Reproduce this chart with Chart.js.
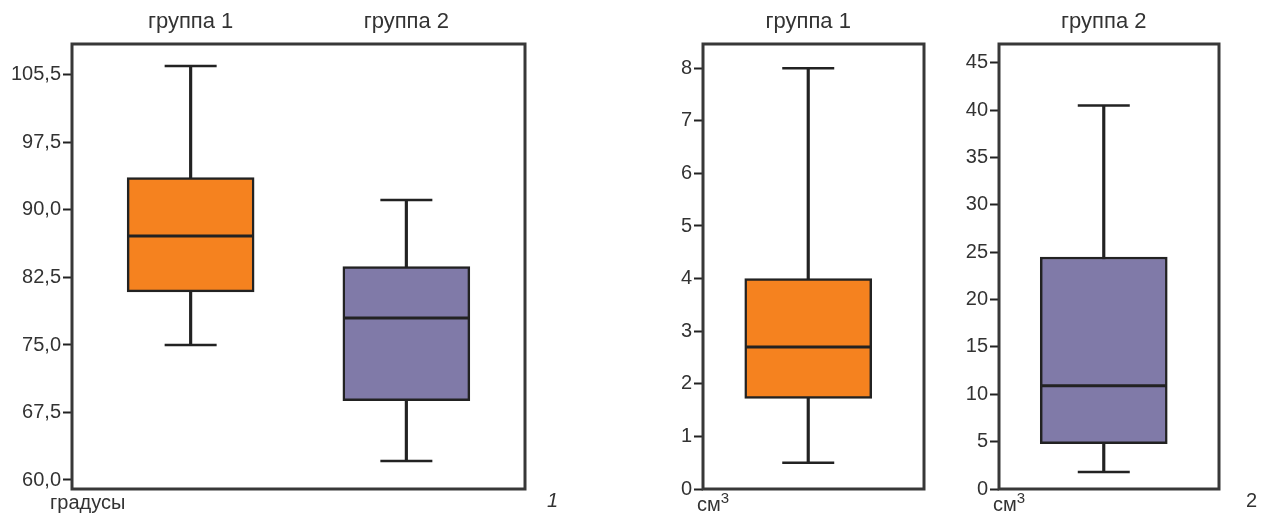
<!DOCTYPE html>
<html lang="ru">
<head>
<meta charset="utf-8">
<title>Boxplots</title>
<script src="https://cdn.jsdelivr.net/npm/chart.js@4.4.1/dist/chart.umd.min.js"></script>
<style>
  body { margin: 0; background: #fff; width: 1270px; height: 515px; position: relative; overflow: hidden;
         font-family: "Liberation Sans", Arial, sans-serif; color: #333; }
  canvas { position: absolute; top: 0; }
  .note { position: absolute; font-size: 20px; line-height: 22px; color: #333; white-space: nowrap; }
  .note sup { font-size: 15px; vertical-align: 8px; line-height: 0; }
</style>
</head>
<body>
<canvas id="chartAngle" width="560" height="515" style="left:0px"></canvas>
<canvas id="chartVol1" width="320" height="515" style="left:630px"></canvas>
<canvas id="chartVol2" width="320" height="515" style="left:950px"></canvas>

<div class="note" style="left:50px;top:491px">градусы</div>
<div class="note" style="left:547px;top:489px;font-style:italic">1</div>
<div class="note" style="left:697px;top:493px">см<sup>3</sup></div>
<div class="note" style="left:993px;top:493px">см<sup>3</sup></div>
<div class="note" style="left:1246px;top:489px">2</div>

<script>
// panel 1 - angle, degrees
const angleGroups = ["группа 1", "группа 2"];
const angleMin = [75.0, 62.1];
const angleQ1 = [80.9, 68.8];
const angleMedian = [87.1, 78.0];
const angleQ3 = [93.6, 83.7];
const angleMax = [106.0, 91.1];
const angleTicks = [60, 67.5, 75, 82.5, 90, 97.5, 105];
const angleTickLabels = ["60,0", "67,5", "75,0", "82,5", "90,0", "97,5", "105,5"];

// panel 2 - volume, cm3, group 1
const vol1Group = ["группа 1"];
const vol1Min = [0.5];
const vol1Q1 = [1.72];
const vol1Median = [2.7];
const vol1Q3 = [4.0];
const vol1Max = [8.0];
const vol1Ticks = [0, 1, 2, 3, 4, 5, 6, 7, 8];

// panel 3 - volume, cm3, group 2
const vol2Group = ["группа 2"];
const vol2Min = [1.8];
const vol2Q1 = [4.8];
const vol2Median = [10.9];
const vol2Q3 = [24.5];
const vol2Max = [40.5];
const vol2Ticks = [0, 5, 10, 15, 20, 25, 30, 35, 40, 45];

const orange = "#f5821f";
const purple = "#807aa8";
const lineColor = "#222";
const textColor = "#333";
const fontFamily = '"Liberation Sans", Arial, sans-serif';

// outline round the plot area
const framePlugin = {
  id: "frame",
  afterDraw(chart) {
    const { ctx, chartArea } = chart;
    ctx.save();
    ctx.strokeStyle = "#383838";
    ctx.lineWidth = 3;
    ctx.strokeRect(chartArea.left, chartArea.top,
      chartArea.right - chartArea.left, chartArea.bottom - chartArea.top);
    ctx.restore();
  }
};

function boxChart(canvasId, p) {
  const xs = p.labels.map((_, i) => i + 1);
  return new Chart(document.getElementById(canvasId), {
    type: "bar",
    data: {
      datasets: [
        { // whisker stems, behind the box
          label: "whisker",
          order: 4,
          grouped: false,
          barThickness: 2.5,
          backgroundColor: lineColor,
          borderWidth: 0,
          data: xs.map((x, i) => ({ x: x, y: [p.min[i], p.max[i]] })),
        },
        { // box q1..q3
          label: "box",
          order: 3,
          grouped: false,
          barThickness: 127,
          backgroundColor: p.colors,
          borderColor: lineColor,
          borderWidth: 2.5,
          borderSkipped: false,
          data: xs.map((x, i) => ({ x: x, y: [p.q1[i], p.q3[i]] })),
        },
        { // median
          type: "scatter",
          label: "median",
          order: 1,
          pointStyle: "line",
          pointRadius: 63,
          pointBorderWidth: 3,
          pointBorderColor: lineColor,
          data: xs.map((x, i) => ({ x: x, y: p.median[i] })),
        },
        { // whisker caps
          type: "scatter",
          label: "caps",
          order: 2,
          pointStyle: "line",
          pointRadius: 26,
          pointBorderWidth: 2.5,
          pointBorderColor: lineColor,
          data: xs.flatMap((x, i) => [{ x: x, y: p.min[i] }, { x: x, y: p.max[i] }]),
        },
      ],
    },
    options: {
      responsive: false,
      animation: false,
      events: [],
      layout: { autoPadding: false, padding: { left: 0, top: 0, right: p.padRight, bottom: 26 } },
      plugins: {
        legend: { display: false },
        tooltip: { enabled: false },
      },
      scales: {
        x: {
          type: "linear",
          position: "top",
          offset: false,
          min: p.xMin,
          max: p.xMax,
          afterFit: (scale) => { scale.height = 44; },
          afterBuildTicks: (scale) => { scale.ticks = xs.map((v) => ({ value: v })); },
          grid: { display: false, drawTicks: false, offset: false },
          border: { display: false },
          ticks: {
            autoSkip: false,
            maxRotation: 0,
            padding: 9,
            color: textColor,
            font: { family: fontFamily, size: 22 },
            callback: (value, index) => p.labels[index],
          },
        },
        y: {
          min: p.yMin,
          max: p.yMax,
          afterFit: (scale) => { scale.width = p.axisWidth; },
          afterBuildTicks: (scale) => { scale.ticks = p.ticks.map((v) => ({ value: v })); },
          grid: { drawOnChartArea: false, drawTicks: true, tickLength: 9, tickWidth: 2, tickColor: lineColor },
          border: { display: false },
          ticks: {
            autoSkip: false,
            padding: 2,
            color: textColor,
            font: { family: fontFamily, size: 20 },
            callback: (value, index) => p.tickLabels[index],
          },
        },
      },
    },
    plugins: [framePlugin],
  });
}

boxChart("chartAngle", {
  labels: angleGroups, colors: [orange, purple],
  min: angleMin, q1: angleQ1, median: angleMedian, q3: angleQ3, max: angleMax,
  ticks: angleTicks, tickLabels: angleTickLabels,
  yMin: 59.0, yMax: 108.44, xMin: 0.45, xMax: 2.55,
  axisWidth: 72, padRight: 35,
});

boxChart("chartVol1", {
  labels: vol1Group, colors: [orange],
  min: vol1Min, q1: vol1Q1, median: vol1Median, q3: vol1Q3, max: vol1Max,
  ticks: vol1Ticks, tickLabels: vol1Ticks.map(String),
  yMin: 0, yMax: 8.46, xMin: 0.5, xMax: 1.55,
  axisWidth: 73, padRight: 26,
});

boxChart("chartVol2", {
  labels: vol2Group, colors: [purple],
  min: vol2Min, q1: vol2Q1, median: vol2Median, q3: vol2Q3, max: vol2Max,
  ticks: vol2Ticks, tickLabels: vol2Ticks.map(String),
  yMin: 0, yMax: 47.0, xMin: 0.5, xMax: 1.55,
  axisWidth: 49, padRight: 51,
});
</script>
</body>
</html>
